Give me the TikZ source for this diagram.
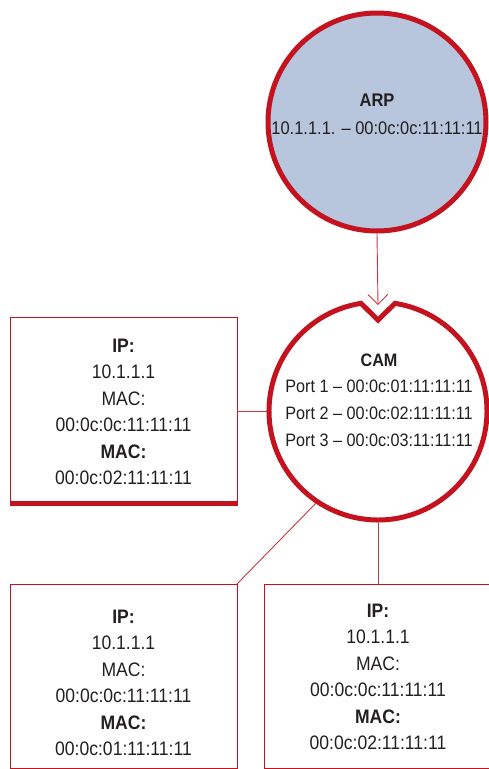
\documentclass[tikz,border=0pt]{standalone}
\usepackage{fontspec}
\setmainfont{Liberation Sans}[FakeStretch=0.9]
\usetikzlibrary{arrows.meta,calc}
\definecolor{ciscored}{HTML}{C4121F}
\definecolor{arpblue}{HTML}{B7C6DD}
\definecolor{txt}{HTML}{231F20}
\begin{document}
\begin{tikzpicture}[x=1pt,y=-1pt,
  every node/.style={text=txt},
  infobox/.style={draw=ciscored, line width=0.9pt, minimum width=227pt, minimum height=188pt, inner sep=0pt, outer sep=0pt},
  boxtext/.style={align=center, font=\fontsize{19.5}{26.5}\selectfont, inner sep=0pt},
  link/.style={draw=ciscored!85, line width=0.9pt},
  thickring/.style={draw=ciscored, line width=5pt}]
\useasboundingbox (0,0) rectangle (489,769);
\clip (0,0) rectangle (489,769);
% ARP circle
\node[circle, thickring, fill=arpblue, minimum size=218pt, inner sep=0pt] (arp) at (377,122) {};
\node[align=center, font=\fontsize{18.3}{28}\selectfont, inner sep=0pt] (arptext) at (377,114) {\textbf{ARP}\\10.1.1.1. – 00:0c:0c:11:11:11};
% CAM circle with notch
\node[circle, minimum size=218pt, inner sep=0pt, outer sep=2.5pt] (cam) at (378,411) {};
\coordinate (apex) at (378,320);
\coordinate (camtip) at (378,305);
\draw[thickring, fill=white, line join=miter] ($(cam.center)+(81:109pt)$) arc[start angle=81, end angle=-261, radius=109pt] -- (apex) -- cycle;
\node[align=center, font=\fontsize{18}{26.7}\selectfont, inner sep=0pt] (camtext) at (379,400) {\textbf{CAM}\\Port 1 – 00:0c:01:11:11:11\\Port 2 – 00:0c:02:11:11:11\\Port 3 – 00:0c:03:11:11:11};
% boxes
\node[infobox] (lbox) at (123.5,411) {};
\draw[ciscored, line width=5pt] ([yshift=2pt]lbox.south west) -- ([yshift=2pt]lbox.south east);
\node[infobox, minimum height=184pt] (blbox) at (123.5,676) {};
\node[infobox, minimum height=184pt, minimum width=228pt] (brbox) at (378,676) {};
\node[boxtext] (ltext) at (123.5,412) {\textbf{IP:}\\10.1.1.1\\MAC:\\00:0c:0c:11:11:11\\\textbf{MAC:}\\00:0c:02:11:11:11};
\node[boxtext] (bltext) at (123.5,683) {\textbf{IP:}\\10.1.1.1\\MAC:\\00:0c:0c:11:11:11\\\textbf{MAC:}\\00:0c:01:11:11:11};
\node[boxtext] (brtext) at (378,677) {\textbf{IP:}\\10.1.1.1\\MAC:\\00:0c:0c:11:11:11\\\textbf{MAC:}\\00:0c:02:11:11:11};
% connectors
\draw[link, -{Straight Barb[length=10pt,width=20pt]}] (arp.south) -- (camtip);
\draw[link] (lbox.east) -- (cam.west);
\draw[link] (blbox.north east) -- (cam.236.9);
\draw[link] (cam.south) -- (brbox.north);
\end{tikzpicture}
\end{document}
